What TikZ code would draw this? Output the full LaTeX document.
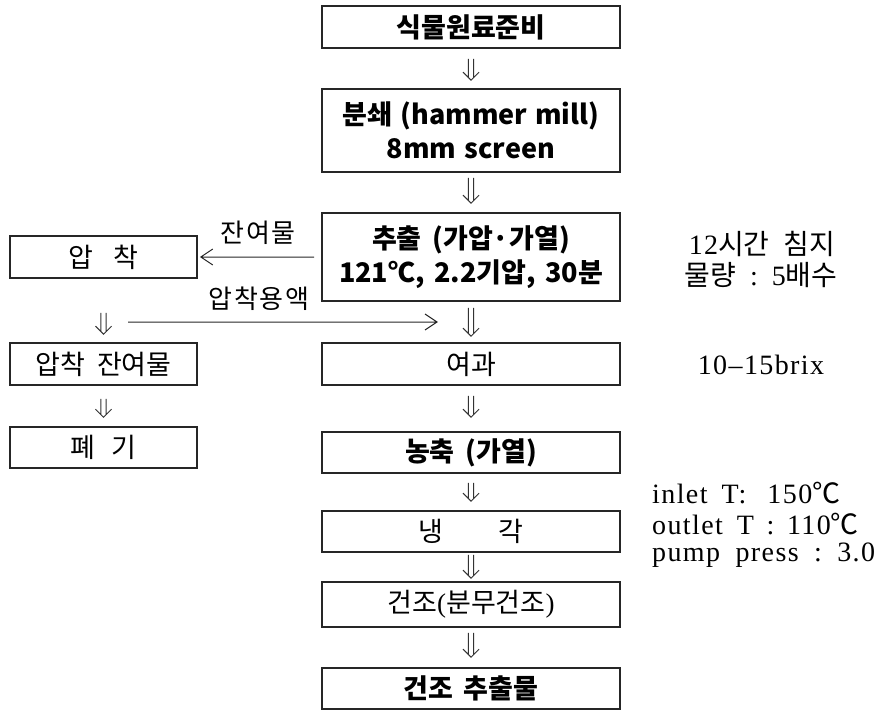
\documentclass[tikz,border=0pt]{standalone}
\usepackage{fontspec}
\setmainfont{Liberation Serif}
\newfontfamily\kr{Noto Sans CJK KR}
\newfontfamily\krls{Noto Sans CJK KR}[LetterSpace=6]
\usetikzlibrary{calc}
\def\gapa{6pt}\def\gapb{6pt}
\begin{document}
\begin{tikzpicture}[x=1pt,y=-1pt,
  gapa/.code={\def\gapa{#1}},
  gapb/.code={\def\gapb{#1}},
  box/.style={draw=black!85, line width=1.6pt, inner sep=0pt, align=center},
  mainbox/.style={box, minimum width=298pt},
  sidebox/.style={box, minimum width=187pt},
  bt/.style={font=\kr\bfseries\fontsize{27}{34}\selectfont},
  lt/.style={font=\kr\fontsize{27}{33}\selectfont},
  note/.style={font=\fontsize{28}{31}\selectfont\addfontfeature{LetterSpace=5}, inner sep=0pt},
  dn/.style={line width=1pt, draw=black!80, to path={
    let \p1=(\tikztostart.south), \p2=(\tikztotarget.north) in
    (\x1-2.6pt,\y1-\gapa) -- (\x1-2.6pt,\y2+\gapb+2.6pt)
    (\x1+2.6pt,\y1-\gapa) -- (\x1+2.6pt,\y2+\gapb+2.6pt)
    (\x1-8pt,\y2+\gapb+8pt) -- (\x1,\y2+\gapb) -- (\x1+8pt,\y2+\gapb+8pt)}},
  side/.style={line width=1pt, draw=black!85},
  lab/.style={font=\krls\fontsize{26}{30}\selectfont, inner sep=0pt}
]
\useasboundingbox (0,0) rectangle (883,710);
% main column
\node[mainbox, minimum height=42pt, bt] (b1) at (471,27) {식물원료준비};
\node[mainbox, minimum height=83pt, bt] (b2) at (471,130.5) {분쇄\hspace{0.3em}(hammer\hspace{0.3em}mill)\\8mm\hspace{0.3em}screen};
\node[mainbox, minimum height=88pt, bt] (b3) at (471,257) {추출\hspace{0.4em}(가압·가열)\\121℃,\hspace{0.35em}2.2기압,\hspace{0.35em}30분};
\node[mainbox, minimum height=42pt, lt] (b4) at (471,364) {여과};
\node[mainbox, minimum height=41pt, bt] (b5) at (471,452.5) {농축\hspace{0.4em}(가열)};
\node[mainbox, minimum height=41pt, lt] (b6) at (471,531.5) {냉\hspace{2.05em}각};
\node[mainbox, minimum height=45pt, lt] (b7) at (471,604.5) {건조{\rmfamily(}분무건조{\rmfamily)}};
\node[mainbox, minimum height=41pt, bt] (b8) at (471,688.5) {건조\hspace{0.4em}추출물};
% side column
\node[sidebox, minimum height=42pt, lt] (l1) at (103.5,257) {압\hspace{0.75em}착};
\node[sidebox, minimum height=42pt, lt] (l2) at (103.5,364) {압착\hspace{0.45em}잔여물};
\node[sidebox, minimum height=41pt, lt] (l3) at (103.5,447.5) {폐\hspace{0.6em}기};
% double arrows
\draw[dn, gapa=10pt, gapb=8pt] (b1) to (b2);
\draw[dn, gapa=5pt, gapb=9pt] (b2) to (b3);
\draw[dn, gapa=6pt, gapb=6pt] (b3) to (b4);
\draw[dn, gapa=10pt, gapb=14pt] (b4) to (b5);
\draw[dn, gapa=9pt, gapb=9pt] (b5) to (b6);
\draw[dn, gapa=2pt, gapb=3pt] (b6) to (b7);
\draw[dn, gapa=5pt, gapb=10pt] (b7) to (b8);
\draw[dn, gapa=34pt, gapb=8pt] (l1) to (l2);
\draw[dn, gapa=13pt, gapb=9pt] (l2) to (l3);
% side arrows
\draw[side] ([xshift=-7pt]b3.west) -- ([xshift=3pt]l1.east)
  ++(12pt,-8pt) -- ([xshift=3pt]l1.east) -- ++(12pt,8pt);
\node[lab] (t1) at (258,233) {잔여물};
\coordinate (pa) at (128,322);
\coordinate (pb) at (437,322);
\draw[side] (pa) -- (pb) ++(-12pt,-8pt) -- (pb) -- ++(-12pt,8pt);
\node[lab] (t2) at (259,299) {압착용액};
% notes
\node[note] (n1) at (762,244) {12{\kr 시간}\hspace{0.5em}{\kr 침지}};
\node[note] (n2) at (761,275) {{\kr 물량}\hspace{0.5em}:\hspace{0.5em}5{\kr 배수}};
\node[note] (n3) at (761,365) {10–15brix};
\node[note, anchor=west] (n4) at (652,493) {inlet\hspace{0.5em}T:\hspace{0.75em}150{\kr ℃}};
\node[note, anchor=west] (n5) at (652,524) {outlet\hspace{0.5em}T\hspace{0.45em}:\hspace{0.45em}110{\kr ℃}};
\node[note, anchor=west] (n6) at (652,555) {pump\hspace{0.55em}press\hspace{0.55em}:\hspace{0.55em}3.0};
\end{tikzpicture}
\end{document}
